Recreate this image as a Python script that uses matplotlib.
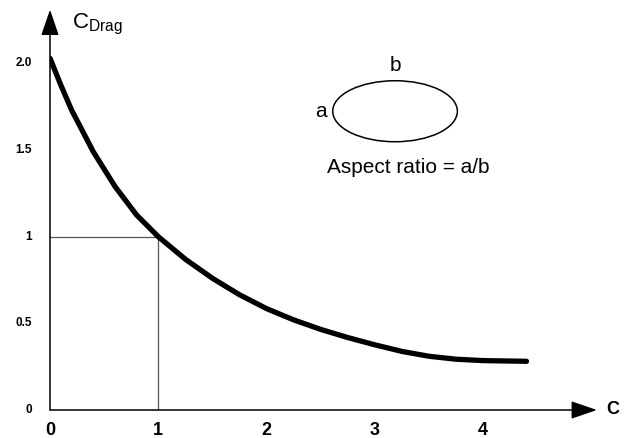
import numpy as np
import matplotlib.pyplot as plt
from matplotlib.patches import Ellipse

plt.rcParams['font.family'] = ['Liberation Sans', 'DejaVu Sans']

# curve
ratio = [0, 0.1, 0.2, 0.4, 0.6, 0.8, 1.0, 1.25, 1.5, 1.75, 2.0, 2.25, 2.5, 2.75,
         3.0, 3.25, 3.5, 3.75, 4.0, 4.4]
cdrag = [2.03, 1.875, 1.73, 1.49, 1.29, 1.125, 1.0, 0.87, 0.76, 0.665, 0.585, 0.52,
         0.465, 0.418, 0.376, 0.338, 0.31, 0.293, 0.285, 0.281]

xticks = [0, 1, 2, 3, 4]
xlabels = ['0', '1', '2', '3', '4']
yticks = [0, 0.5, 1, 1.5, 2.0]
ylabels = ['0', '0.5', '1', '1.5', '2.0']

fig = plt.figure(figsize=(6.24, 4.38), dpi=100)
ax = fig.add_axes([50/624, 28/438, 574/624, 410/438])
ax.set_xlim(0, 574/108.3)
ax.set_ylim(0, 410/173.3)
for s in ax.spines.values():
    s.set_visible(False)
ax.set_xticks([])
ax.set_yticks([])

# axes drawn as arrows
arrow = dict(arrowstyle='-|>,head_length=1.6,head_width=0.55', color='black',
             lw=1.1, shrinkA=0, shrinkB=0)
ax.annotate('', xy=(5.05, 0), xytext=(0, 0), arrowprops=arrow, annotation_clip=False)
ax.annotate('', xy=(0, 2.31), xytext=(0, 0), arrowprops=arrow, annotation_clip=False)

for x, l in zip(xticks, xlabels):
    ax.text(x, -0.07, l, ha='center', va='top', fontsize=13, fontweight='bold', clip_on=False)
for y, l in zip(yticks, ylabels):
    ax.text(-0.166, y, l, ha='right', va='center', fontsize=8.5, fontweight='bold', clip_on=False)

ax.text(0.2, 2.227, r'C$_{\mathregular{Drag}}$', fontsize=16, ha='left', va='center')
ax.text(5.14, 0.0, 'C', fontsize=13, fontweight='bold', ha='left', va='center', clip_on=False)

# guide lines at aspect ratio 1
ax.plot([0, 1], [1, 1], color='#555555', lw=0.9)
ax.plot([1, 1], [0, 1], color='#555555', lw=0.9)

ax.plot(ratio, cdrag, color='black', lw=3.8, solid_capstyle='round', solid_joinstyle='round')

# ellipse sketch
ax.add_patch(Ellipse((3.186, 1.724), 1.151, 0.352, fill=False, ec='black', lw=1.1))
ax.text(3.186, 1.985, 'b', fontsize=15, ha='center', va='center')
ax.text(2.506, 1.72, 'a', fontsize=15, ha='center', va='center')
ax.text(3.31, 1.40, 'Aspect ratio = a/b', fontsize=15, ha='center', va='center')

fig.savefig('out.png', dpi=100)
